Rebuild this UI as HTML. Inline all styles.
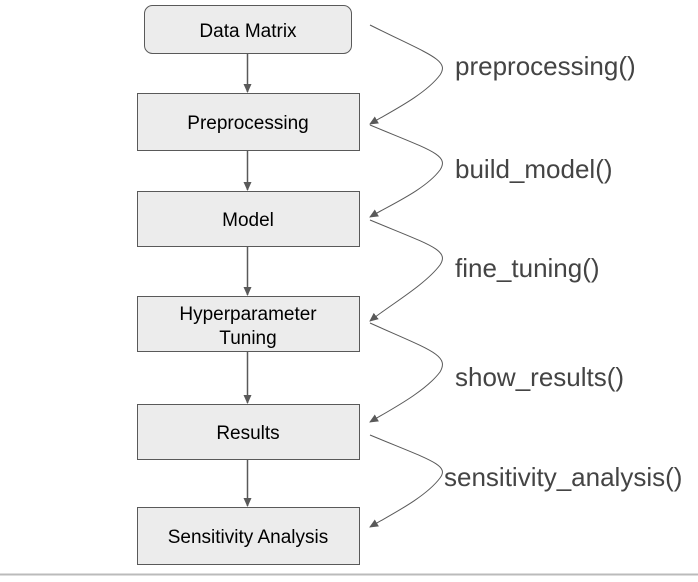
<!DOCTYPE html>
<html><head><style>
body{margin:0;width:698px;height:577px;background:#fff;overflow:hidden;font-family:"Liberation Sans",sans-serif}
</style></head><body>
<svg width="698" height="577" xmlns="http://www.w3.org/2000/svg" font-family="Liberation Sans, sans-serif">
<defs><marker id="a" markerWidth="10" markerHeight="10" refX="8" refY="5" orient="auto" markerUnits="userSpaceOnUse"><path d="M0,1 L9,5 L0,9 z" fill="#595959"/></marker></defs>
<g fill="#ececec" stroke="#595959" stroke-width="1">
<rect x="144.5" y="5.5" width="207" height="48" rx="8"/>
<rect x="137.5" y="93.5" width="222" height="57"/>
<rect x="137.5" y="191.5" width="222" height="55"/>
<rect x="137.5" y="296.5" width="222" height="55"/>
<rect x="137.5" y="404.5" width="222" height="55"/>
<rect x="137.5" y="507.5" width="222" height="57"/>
</g>
<g stroke="#595959" stroke-width="1.5" marker-end="url(#a)">
<line x1="247.5" y1="54" x2="247.5" y2="92"/>
<line x1="247.5" y1="151" x2="247.5" y2="190"/>
<line x1="247.5" y1="247" x2="247.5" y2="295"/>
<line x1="247.5" y1="352" x2="247.5" y2="403"/>
<line x1="247.5" y1="460" x2="247.5" y2="506"/>
</g>
<g fill="none" stroke="#595959" stroke-width="1" marker-end="url(#a)">
<path d="M370,25 C430,55 450,60 440,75 C425,95 390,112 370,124"/>
<path d="M370,125 C430,150 450,155 440,170 C425,190 390,205 370,217"/>
<path d="M370,220 C430,245 450,250 440,265 C425,285 390,305 370,321"/>
<path d="M370,323 C430,350 450,355 440,372 C425,392 390,410 370,422"/>
<path d="M370,435 C430,460 450,465 440,478 C425,498 390,515 370,527"/>
</g>
<g font-size="19" fill="#000" text-anchor="middle">
<text x="248" y="37">Data Matrix</text>
<text x="248" y="129">Preprocessing</text>
<text x="248" y="226">Model</text>
<text x="248" y="320">Hyperparameter</text>
<text x="248" y="344">Tuning</text>
<text x="248" y="439">Results</text>
<text x="248" y="543">Sensitivity Analysis</text>
</g>
<g font-size="26" fill="#444">
<text x="455" y="75">preprocessing()</text>
<text x="455" y="178">build_model()</text>
<text x="455" y="277">fine_tuning()</text>
<text x="455" y="386">show_results()</text>
<text x="444" y="486">sensitivity_analysis()</text>
</g>
<line x1="0" y1="574.5" x2="698" y2="574.5" stroke="#bbb" stroke-width="2"/>
</svg>
</body></html>
